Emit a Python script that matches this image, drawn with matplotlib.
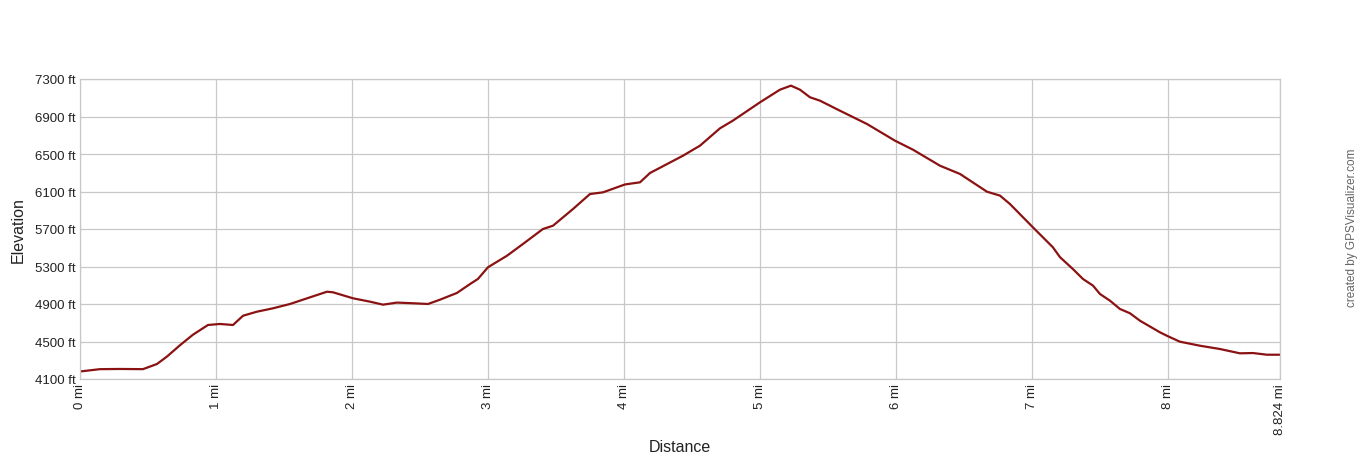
import matplotlib
matplotlib.use("Agg")
import matplotlib.pyplot as plt

plt.rcParams['font.family'] = ['Liberation Sans', 'DejaVu Sans']

# distance (mi) and elevation (ft)
dist = [0.0, 0.147, 0.294, 0.463, 0.566, 0.640, 0.735, 0.831, 0.941, 1.029,
        1.125, 1.199, 1.301, 1.419, 1.544, 1.691, 1.816, 1.860, 2.007, 2.132,
        2.228, 2.331, 2.449, 2.559, 2.647, 2.772, 2.868, 2.926, 3.0, 3.140,
        3.257, 3.404, 3.478, 3.625, 3.750, 3.846, 4.007, 4.118, 4.191, 4.434,
        4.559, 4.706, 4.801, 5.0, 5.147, 5.228, 5.294, 5.368, 5.441, 5.588,
        5.787, 5.993, 6.125, 6.324, 6.471, 6.669, 6.765, 6.838, 7.007, 7.154,
        7.206, 7.301, 7.375, 7.449, 7.5, 7.574, 7.647, 7.721, 7.794, 7.941,
        8.0, 8.088, 8.235, 8.382, 8.529, 8.625, 8.728, 8.824]
elev = [4180, 4205, 4207, 4205, 4260, 4340, 4460, 4573, 4676, 4687,
        4676, 4775, 4818, 4854, 4900, 4971, 5031, 5025, 4961, 4925,
        4893, 4915, 4908, 4900, 4946, 5018, 5113, 5167, 5292, 5415,
        5540, 5700, 5735, 5913, 6073, 6091, 6175, 6198, 6297, 6482,
        6589, 6774, 6856, 7051, 7186, 7229, 7186, 7105, 7069, 6962,
        6820, 6642, 6546, 6375, 6287, 6098, 6056, 5967, 5718, 5505,
        5400, 5273, 5167, 5096, 5007, 4935, 4847, 4801, 4722, 4598,
        4556, 4498, 4455, 4420, 4374, 4377, 4359, 4359]

xticks = [0, 1, 2, 3, 4, 5, 6, 7, 8, 8.824]
xlabels = ["0 mi", "1 mi", "2 mi", "3 mi", "4 mi", "5 mi", "6 mi", "7 mi", "8 mi", "8.824 mi"]
yticks = [4100, 4500, 4900, 5300, 5700, 6100, 6500, 6900, 7300]
ylabels = [str(v) + " ft" for v in yticks]

fig = plt.figure(figsize=(13.6, 4.6), dpi=100)
ax = fig.add_axes([80/1360, 80/460, 1200/1360, 300/460])
ax.plot(dist, elev, color='#8b1212', lw=1.6, solid_joinstyle='round')
ax.set_xlim(0, 8.824)
ax.set_ylim(4100, 7300)
ax.set_xticks(xticks)
ax.set_xticklabels(xlabels, rotation=90, fontsize=9.5, color='#222222')
ax.set_yticks(yticks)
ax.set_yticklabels(ylabels, fontsize=9.5, color='#222222')
ax.tick_params(length=0, pad=3)
ax.grid(True, color='#c8c8c8', lw=0.9)
ax.set_axisbelow(True)
for s in ax.spines.values():
    s.set_color('#c8c8c8')
    s.set_linewidth(0.9)
fig.text(680/1360, 1 - 448/460, "Distance", fontsize=11.5, color='#222222',
         ha='center', va='center')
fig.text(18/1360, 1 - 230/460, "Elevation", fontsize=11.5, color='#222222',
         rotation=90, ha='center', va='center')
fig.text(1352/1360, 1 - 228/460, "created by GPSVisualizer.com", rotation=90,
         fontsize=8.5, color='#666666', ha='center', va='center')
fig.savefig("out.png", dpi=100)
